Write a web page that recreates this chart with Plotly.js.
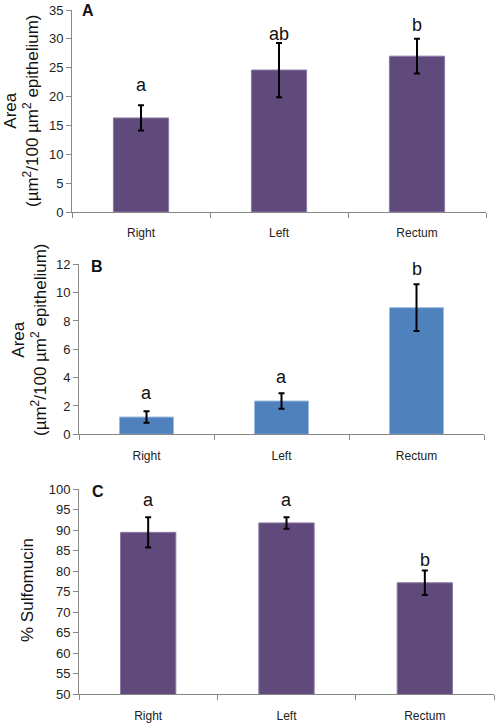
<!DOCTYPE html>
<html>
<head>
<meta charset="utf-8">
<script src="https://cdn.plot.ly/plotly-3.0.1.min.js"></script>
<style>html,body{margin:0;padding:0;background:#fff;}#chart{width:498px;height:726px;}</style>
</head>
<body>
<div id="chart"></div>
<script>
// ---- data ----
const categories = ['Right', 'Left', 'Rectum'];

const areaA = [16.3, 24.6, 27.0];
const errA = [2.2, 4.7, 3.0];
const lettersA = ['a', 'ab', 'b'];

const areaB = [1.22, 2.35, 8.94];
const errB = [0.40, 0.55, 1.65];
const lettersB = ['a', 'a', 'b'];

const sulfoC = [89.5, 91.8, 77.2];
const errC = [3.7, 1.4, 3.0];
const lettersC = ['a', 'a', 'b'];

const yTicksA = [0, 5, 10, 15, 20, 25, 30, 35];
const yTicksB = [0, 2, 4, 6, 8, 10, 12];
const yTicksC = [50, 55, 60, 65, 70, 75, 80, 85, 90, 95, 100];

// ---- styling ----
const W = 498, H = 726;
const purple = '#604A7B', purpleEdge = '#8C7AA6';
const blue = '#4F81BD', blueEdge = '#9DBBE0';
const axisGray = '#878787';
const font = 'Liberation Sans, Arial, sans-serif';
const letterLift = { A: [8, -3, 2], B: [6, 4, 3], C: [5, 5, -2] };

function px(x0, x1, yTop, yBot) {
  return { x: [x0 / W, x1 / W], y: [1 - yBot / H, 1 - yTop / H] };
}
const dA = px(72, 486, 10, 212);
const dB = px(79, 484, 264.3, 434.3);
const dC = px(79, 494, 489.3, 694.3);

function barTrace(vals, errs, color, edge, xa, ya) {
  return {
    type: 'bar', x: categories, y: vals, xaxis: xa, yaxis: ya,
    width: 0.4,
    marker: { color: color, line: { color: edge, width: 1 } },
    error_y: { type: 'data', array: errs, visible: true, color: '#000', thickness: 2, width: 3 },
    hoverinfo: 'none', showlegend: false
  };
}

const traces = [
  barTrace(areaA, errA, purple, purpleEdge, 'x', 'y'),
  barTrace(areaB, errB, blue, blueEdge, 'x2', 'y2'),
  barTrace(sulfoC, errC, purple, purpleEdge, 'x3', 'y3')
];

function xaxisDef(dom, anchor) {
  return {
    domain: dom, anchor: anchor, type: 'category', range: [-0.5, 2.5],
    showline: true, linecolor: axisGray, linewidth: 1,
    ticks: 'outside', tickson: 'boundaries', ticklen: 5, tickcolor: axisGray,
    ticklabelstandoff: 10,
    tickfont: { family: font, size: 12, color: '#222' },
    showgrid: false, zeroline: false, fixedrange: true
  };
}
function yaxisDef(dom, anchor, range, ticks) {
  return {
    domain: dom, anchor: anchor, range: range,
    tickvals: ticks, ticktext: ticks.map(String),
    showline: true, linecolor: axisGray, linewidth: 1,
    ticks: 'outside', ticklen: 5, tickcolor: axisGray,
    tickfont: { family: font, size: 13, color: '#222' },
    showgrid: false, zeroline: false, fixedrange: true
  };
}

const annotations = [];
function addLetters(vals, errs, letters, lifts, xa, ya) {
  letters.forEach((l, i) => {
    annotations.push({
      xref: xa, yref: ya, x: categories[i], y: vals[i] + errs[i],
      text: l, showarrow: false, yanchor: 'bottom', yshift: lifts[i],
      font: { family: font, size: 18, color: '#111' }
    });
  });
}
addLetters(areaA, errA, lettersA, letterLift.A, 'x', 'y');
addLetters(areaB, errB, lettersB, letterLift.B, 'x2', 'y2');
addLetters(sulfoC, errC, lettersC, letterLift.C, 'x3', 'y3');

function paperText(text, xPix, yPix, size, bold, angle) {
  annotations.push({
    xref: 'paper', yref: 'paper', x: xPix / W, y: 1 - yPix / H,
    xanchor: 'center', yanchor: 'middle', showarrow: false,
    text: bold ? '<b>' + text + '</b>' : text, textangle: angle || 0,
    font: { family: font, size: size, color: '#111' }
  });
}
paperText('A', 88, 11, 16, true);
paperText('B', 97, 266, 16, true);
paperText('C', 98, 491, 16, true);

const areaTitle = 'Area<br>(µm<sup>2</sup>/100 µm<sup>2</sup> epithelium)';
paperText(areaTitle, 21, 111, 17, false, -90);
paperText(areaTitle, 29, 340, 17, false, -90);
paperText('% Sulfomucin', 27, 590, 17, false, -90);

const layout = {
  width: W, height: H,
  margin: { l: 0, r: 0, t: 0, b: 0 },
  paper_bgcolor: '#fff', plot_bgcolor: '#fff',
  xaxis: xaxisDef(dA.x, 'y'),
  yaxis: yaxisDef(dA.y, 'x', [0, 35], yTicksA),
  xaxis2: xaxisDef(dB.x, 'y2'),
  yaxis2: yaxisDef(dB.y, 'x2', [0, 12], yTicksB),
  xaxis3: xaxisDef(dC.x, 'y3'),
  yaxis3: yaxisDef(dC.y, 'x3', [50, 100], yTicksC),
  annotations: annotations,
  showlegend: false
};

Plotly.newPlot('chart', traces, layout, { displayModeBar: false, staticPlot: true });
</script>
</body>
</html>
